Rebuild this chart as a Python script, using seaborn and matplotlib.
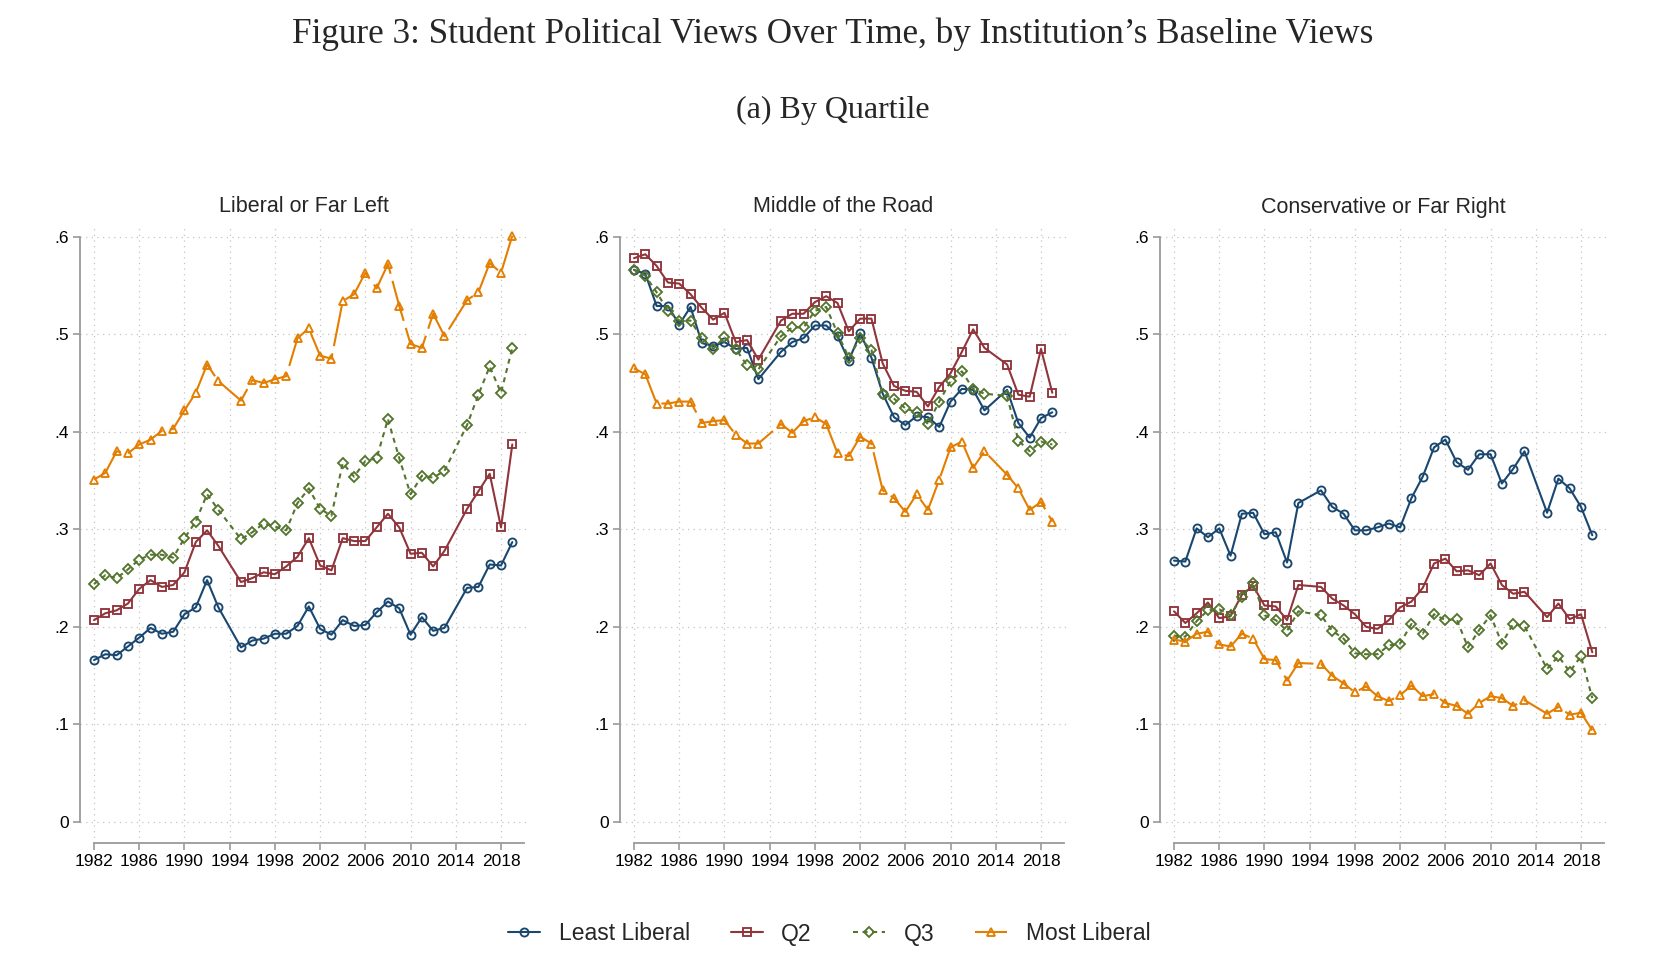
import numpy as np
import pandas as pd
import matplotlib
matplotlib.use("Agg")
import matplotlib.pyplot as plt
import seaborn as sns

# years in the survey (1994 and 2014 are missing)
years = [1982, 1983, 1984, 1985, 1986, 1987, 1988, 1989, 1990, 1991, 1992, 1993,
         1995, 1996, 1997, 1998, 1999, 2000, 2001, 2002, 2003, 2004, 2005, 2006,
         2007, 2008, 2009, 2010, 2011, 2012, 2013, 2015, 2016, 2017, 2018, 2019]

groups = ['Least Liberal', 'Q2', 'Q3', 'Most Liberal']
panels = ['Liberal or Far Left', 'Middle of the Road', 'Conservative or Far Right']

# Liberal or Far Left
least_lib = [.166, .172, .171, .180, .189, .199, .193, .195, .213, .220, .248, .220,
             .179, .186, .188, .193, .193, .201, .221, .198, .192, .207, .201, .202,
             .215, .226, .219, .192, .210, .196, .199, .240, .241, .264, .263, .287]
q2_lib = [.207, .214, .217, .224, .239, .248, .241, .243, .256, .287, .299, .283,
          .246, .250, .256, .254, .262, .272, .291, .263, .258, .291, .288, .288,
          .302, .316, .302, .275, .276, .262, .278, .321, .339, .357, .302, .387]
q3_lib = [.244, .253, .250, .259, .269, .274, .274, .271, .291, .308, .336, .320,
          .290, .297, .306, .303, .299, .327, .342, .321, .314, .368, .354, .370,
          .373, .413, .373, .336, .355, .353, .360, .407, .438, .467, .440, .486]
most_lib = [.351, .358, .380, .378, .387, .392, .401, .403, .422, .440, .469, .452,
            .432, .453, .450, .454, .457, .496, .506, .478, .475, .534, .541, .563,
            .547, .572, .529, .490, .486, .521, .498, .535, .543, .573, .563, .601]

# Middle of the Road
least_mid = [.566, .562, .529, .529, .510, .528, .491, .488, .492, .485, .486, .454,
             .482, .492, .496, .509, .509, .498, .473, .501, .476, .439, .415, .407,
             .416, .415, .405, .431, .444, .443, .422, .443, .409, .394, .414, .420]
q2_mid = [.578, .582, .570, .553, .552, .541, .527, .515, .522, .492, .494, .474,
          .514, .521, .521, .533, .539, .532, .503, .516, .516, .470, .447, .442,
          .441, .426, .446, .460, .482, .505, .486, .469, .438, .436, .485, .440]
q3_mid = [.566, .560, .543, .524, .514, .514, .496, .485, .497, .485, .468, .464,
          .498, .507, .507, .524, .528, .501, .476, .496, .484, .439, .434, .424,
          .420, .408, .431, .452, .462, .444, .439, .437, .391, .380, .390, .387]
most_mid = [.465, .459, .429, .429, .431, .431, .409, .411, .412, .397, .388, .388,
            .408, .399, .411, .415, .408, .378, .375, .395, .388, .340, .332, .318,
            .336, .320, .351, .384, .390, .363, .380, .356, .342, .320, .328, .308]

# Conservative or Far Right
least_con = [.268, .267, .301, .292, .301, .273, .316, .317, .295, .297, .266, .327,
             .340, .323, .316, .299, .299, .302, .306, .302, .332, .354, .384, .392,
             .369, .361, .377, .377, .347, .362, .380, .317, .352, .342, .323, .294]
q2_con = [.216, .204, .214, .225, .209, .211, .233, .242, .222, .221, .207, .243,
          .241, .229, .222, .213, .200, .198, .207, .220, .226, .240, .265, .270,
          .257, .258, .253, .265, .243, .234, .236, .210, .224, .208, .213, .174]
q3_con = [.191, .190, .206, .217, .218, .212, .231, .245, .212, .207, .196, .216,
          .212, .196, .188, .173, .172, .172, .181, .183, .203, .193, .213, .207,
          .208, .179, .197, .212, .183, .203, .201, .157, .170, .154, .170, .127]
most_con = [.187, .185, .193, .195, .182, .180, .193, .188, .167, .166, .145, .163,
            .162, .150, .142, .133, .139, .129, .124, .130, .140, .129, .131, .122,
            .119, .111, .122, .129, .127, .119, .125, .111, .118, .110, .112, .094]

series = {
    'Liberal or Far Left': [least_lib, q2_lib, q3_lib, most_lib],
    'Middle of the Road': [least_mid, q2_mid, q3_mid, most_mid],
    'Conservative or Far Right': [least_con, q2_con, q3_con, most_con],
}

x_ticks = [1982, 1986, 1990, 1994, 1998, 2002, 2006, 2010, 2014, 2018]
y_ticks = [0, .1, .2, .3, .4, .5, .6]
y_labels = ['0', '.1', '.2', '.3', '.4', '.5', '.6']

# stata s2color
colors = ['#1a476f', '#90353b', '#55752f', '#e37e00']
markers = ['o', 's', 'D', '^']
msizes = [5.8, 6.0, 5.4, 6.4]
lstyles = ['-', '-', (0, (2.4, 2.2)), (0, (20, 3.5))]

sns.set_style('white')
plt.rcParams['font.family'] = ['Liberation Sans', 'DejaVu Sans']

fig = plt.figure(figsize=(16.72, 9.6), dpi=100)

lefts = [80, 620, 1160]
for i, panel in enumerate(panels):
    ax = fig.add_axes([lefts[i] / 1672, 1 - 843 / 960, 447 / 1672, 618 / 960])
    for j, g in enumerate(groups):
        df = pd.DataFrame({'year': years, 'share': series[panel][j]})
        sns.lineplot(data=df, x='year', y='share', ax=ax, color=colors[j],
                     marker=markers[j], markersize=msizes[j], mfc='none',
                     mec=colors[j], mew=1.35, linewidth=1.5, linestyle=lstyles[j],
                     label=g, legend=False)
    ax.set_xlim(1980.76, 2020.3)
    ax.set_ylim(-0.0215, 0.612)
    ax.set_xticks(x_ticks)
    ax.set_yticks(y_ticks)
    ax.set_yticklabels(y_labels)
    ax.set_xlabel('')
    ax.set_ylabel('')
    ax.grid(True, color='#c4c4c4', linestyle=(0, (1, 3.5)), linewidth=0.9)
    for s in ['top', 'right']:
        ax.spines[s].set_visible(False)
    ax.spines['left'].set_bounds(0, 0.6)
    ax.spines['bottom'].set_bounds(1982, 2020)
    for s in ['left', 'bottom']:
        ax.spines[s].set_color('#9a9a9a')
        ax.spines[s].set_linewidth(1.3)
    ax.tick_params(axis='both', direction='out', length=5, width=1.2,
                   color='#9a9a9a', labelsize=12.5, labelcolor='black',
                   left=True, bottom=True, pad=3)
    ax.set_title(panel, fontsize=15.5, pad=9)

fig.text(0.498, 1 - 34 / 960, 'Figure 3: Student Political Views Over Time, by Institution\u2019s Baseline Views',
         family='Liberation Serif', fontsize=25.3, ha='center', va='center')
fig.text(0.498, 1 - 110 / 960, '(a) By Quartile',
         family='Liberation Serif', fontsize=23, ha='center', va='center')

handles, labels = fig.axes[0].get_legend_handles_labels()
fig.legend(handles, labels, loc='center', bbox_to_anchor=(0.496, 1 - 934 / 960),
           ncol=4, frameon=False, fontsize=16.5, handlelength=1.4,
           handletextpad=0.8, columnspacing=1.8)

fig.savefig('out.png', dpi=100, facecolor='white')
